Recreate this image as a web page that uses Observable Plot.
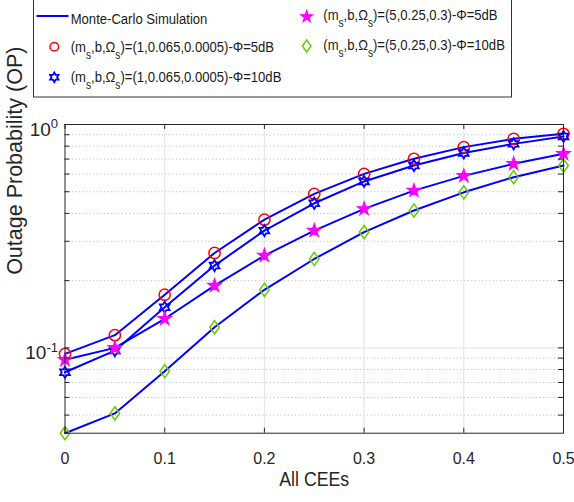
<!DOCTYPE html>
<html><head><meta charset="utf-8">
<script src="https://cdn.jsdelivr.net/npm/d3@7"></script>
<script src="https://cdn.jsdelivr.net/npm/@observablehq/plot@0.6"></script>
<style>
html,body{margin:0;padding:0;background:#fff;}
#wrap{position:relative;width:574px;height:502px;overflow:hidden;font-family:"Liberation Sans",Arial,sans-serif;}
#legend{position:relative;width:574px;height:100px;}
#legend svg{display:block;}
#chart svg{display:block;}
</style></head><body>
<div id="wrap"><div id="legend"></div><div id="chart"></div></div>
<script>
// ---- data ----
const cee = [0, 0.05, 0.1, 0.15, 0.2, 0.25, 0.3, 0.35, 0.4, 0.45, 0.5];
const opA5  = [0.094, 0.114, 0.173, 0.266, 0.375, 0.489, 0.601, 0.702, 0.792, 0.863, 0.908];
const opA10 = [0.0778, 0.0972, 0.152, 0.2336, 0.335, 0.444, 0.556, 0.655, 0.746, 0.819, 0.884];
const opB5  = [0.0884, 0.100, 0.135, 0.190, 0.259, 0.335, 0.419, 0.506, 0.589, 0.667, 0.739];
const opB10 = [0.0415, 0.0509, 0.0786, 0.1237, 0.182, 0.250, 0.330, 0.412, 0.497, 0.581, 0.655];
const seriesNames = ["A5", "A10", "B5", "B10"];
const legendParams = ["(1,0.065,0.0005)-\u03A6=5dB", "(1,0.065,0.0005)-\u03A6=10dB", "(5,0.25,0.3)-\u03A6=5dB", "(5,0.25,0.3)-\u03A6=10dB"];
const lineLabel = "Monte-Carlo Simulation";
const xTicks = [0, 0.1, 0.2, 0.3, 0.4, 0.5];
const xTickLabels = ["0", "0.1", "0.2", "0.3", "0.4", "0.5"];
const yTicks = [0.1, 1];
const yTickLabels = ["10^-1", "10^0"];
const yMinor = [0.05, 0.06, 0.07, 0.08, 0.09, 0.2, 0.3, 0.4, 0.5, 0.6, 0.7, 0.8, 0.9];
const yDomain = [0.0415, 1];
const xLabel = "All CEEs";
const yLabel = "Outage Probability (OP)";

// ---- symbols ----
function starPath(ctx, R, r, n) {
  for (let i = 0; i < 2 * n; i++) {
    const a = i * Math.PI / n - Math.PI / 2;
    const rad = i % 2 === 0 ? R : r;
    const x = rad * Math.cos(a), y = rad * Math.sin(a);
    if (i === 0) ctx.moveTo(x, y); else ctx.lineTo(x, y);
  }
  ctx.closePath();
}
const hexagram = {draw(ctx, size) { const R = Math.sqrt(size / Math.PI); starPath(ctx, R, R / Math.sqrt(3), 6); }};
const pentagram = {draw(ctx, size) { const R = Math.sqrt(size / Math.PI); starPath(ctx, R, R * 0.382, 5); }};
const diamond = {draw(ctx, size) { const R = Math.sqrt(size / Math.PI); ctx.moveTo(0, -R); ctx.lineTo(0.72 * R, 0); ctx.lineTo(0, R); ctx.lineTo(-0.72 * R, 0); ctx.closePath(); }};
const circle = {draw(ctx, size) { const R = Math.sqrt(size / Math.PI); ctx.moveTo(R, 0); ctx.arc(0, 0, R, 0, 2 * Math.PI); }};

const styles = {
  A5:  {symbol: circle,    stroke: "#ff0000", fill: "none",    r: 5.6, strokeWidth: 1.5, lr: 4.3},
  A10: {symbol: hexagram,  stroke: "#0000ff", fill: "none",    r: 5.6, strokeWidth: 1.8, lr: 4.8},
  B5:  {symbol: pentagram, stroke: "#ff00ff", fill: "#ff00ff", r: 7.0, strokeWidth: 1.2, lr: 6.0},
  B10: {symbol: diamond,   stroke: "#66cc00", fill: "none",    r: 6.6, strokeWidth: 1.5, lr: 6.0}
};

const valuesBy = {A5: opA5, A10: opA10, B5: opB5, B10: opB10};
const rows = [];
for (const s of seriesNames) valuesBy[s].forEach((v, i) => rows.push({series: s, cee: cee[i], op: v}));

// ---- layout ----
const W = 574, H = 402, mt = 24, mb = 69.3, ml = 64.5, mr = 11;
const plotW = W - ml - mr, plotH = H - mt - mb;
const axisColor = "#262626";
const xFmt = new Map(xTicks.map((d, i) => [d, xTickLabels[i]]));
const yFmt = new Map(yTicks.map((d, i) => [d, yTickLabels[i]]));

const chart = Plot.plot({
  width: W, height: H,
  marginTop: mt, marginBottom: mb, marginLeft: ml, marginRight: mr,
  style: {fontFamily: "'Liberation Sans', Arial, sans-serif", fontSize: "16px", color: axisColor, background: "#fff", overflow: "visible"},
  x: {domain: [0, 0.5]},
  y: {type: "log", domain: yDomain},
  marks: [
    Plot.ruleY(yMinor, {stroke: "#b4b4b4", strokeDasharray: "1,2.6", strokeWidth: 1}),
    Plot.ruleX(xTicks.slice(1, -1), {stroke: "#e2e2e2", strokeWidth: 1}),
    Plot.ruleY([0.1], {stroke: "#e2e2e2", strokeWidth: 1}),
    Plot.line(rows, {x: "cee", y: "op", z: "series", stroke: "#0000ff", strokeWidth: 2}),
    ...seriesNames.map(s => Plot.dot(rows.filter(d => d.series === s), {
      x: "cee", y: "op", r: styles[s].r, symbol: styles[s].symbol,
      stroke: styles[s].stroke, fill: styles[s].fill, strokeWidth: styles[s].strokeWidth
    })),
    Plot.frame({stroke: axisColor, strokeWidth: 1}),
    Plot.tickX(xTicks, {x: d => d, insetTop: plotH - 5, stroke: axisColor}),
    Plot.tickX(xTicks, {x: d => d, insetBottom: plotH - 5, stroke: axisColor}),
    Plot.tickY([...yMinor, ...yTicks], {y: d => d, insetRight: plotW - 5, stroke: axisColor}),
    Plot.tickY([...yMinor, ...yTicks], {y: d => d, insetLeft: plotW - 5, stroke: axisColor}),
    Plot.axisX(xTicks, {tickSize: 0, tickPadding: 19, tickFormat: d => xFmt.get(d), label: null, fontSize: 16, fill: axisColor}),
    Plot.axisY(yTicks, {tickSize: 0, tickPadding: 7, tickFormat: d => yFmt.get(d), label: null, fontSize: 19, dy: 5, fill: axisColor}),
    Plot.text([xLabel], {frameAnchor: "bottom", dy: 52.5, fontSize: 21, fill: axisColor}),
    Plot.text([yLabel], {frameAnchor: "left", rotate: -90, dx: -50, dy: -4, fontSize: 21.5, fill: axisColor})
  ]
});
document.getElementById("chart").appendChild(chart);

// superscripts on y tick labels
d3.select(chart).selectAll('g[aria-label="y-axis tick label"] text').each(function() {
  const t = d3.select(this);
  const s = t.text();
  const [base, exp] = s.split("^");
  t.text(null);
  t.append("tspan").text(base);
  t.append("tspan").attr("dy", "-0.55em").attr("font-size", "13px").text(exp);
});
// condensed x label (the reference uses a narrow face)
d3.select(chart).selectAll("text").filter(function() { return this.textContent === xLabel; })
  .attr("textLength", 70).attr("lengthAdjust", "spacingAndGlyphs");

// ---- legend ----
const sx = 0.845;
const lg = d3.select("#legend").append("svg").attr("width", W).attr("height", 100)
  .style("font-family", "'Liberation Sans', Arial, sans-serif");
lg.append("rect").attr("x", 33.5).attr("y", -5).attr("width", 478).attr("height", 102)
  .attr("fill", "#fff").attr("stroke", "#333").attr("stroke-width", 1);
lg.append("line").attr("x1", 36.5).attr("x2", 68.5).attr("y1", 16).attr("y2", 16)
  .attr("stroke", "#0000ff").attr("stroke-width", 2);
lg.append("g").attr("transform", `translate(70.7,24) scale(${sx},1)`)
  .append("text").attr("font-size", 15.5).attr("fill", "#1a1a1a").text(lineLabel);

const legendPos = {
  A5:  {mx: 54.3, my: 46.7, tx: 70.7, ty: 52.3},
  A10: {mx: 54.3, my: 77.3, tx: 70.7, ty: 81.7},
  B5:  {mx: 306.7, my: 16.7, tx: 323.3, ty: 19.5},
  B10: {mx: 306.7, my: 46, tx: 323.3, ty: 50}
};
seriesNames.forEach((s, i) => {
  const p = legendPos[s], st = styles[s];
  lg.append("path")
    .attr("d", d3.symbol(st.symbol, st.lr * st.lr * Math.PI)())
    .attr("transform", `translate(${p.mx},${p.my})`)
    .attr("fill", st.fill).attr("stroke", st.stroke).attr("stroke-width", st.strokeWidth);
  const t = lg.append("g").attr("transform", `translate(${p.tx},${p.ty}) scale(${sx},1)`)
    .append("text").attr("font-size", 15.5).attr("fill", "#1a1a1a");
  t.append("tspan").text("(m");
  t.append("tspan").attr("dy", 7).attr("font-size", 12).text("s");
  t.append("tspan").attr("dy", -7).text(",b,\u03A9");
  t.append("tspan").attr("dy", 7).attr("font-size", 12).text("s");
  t.append("tspan").attr("dy", -7).text(")=" + legendParams[i]);
});
</script>
</body></html>
